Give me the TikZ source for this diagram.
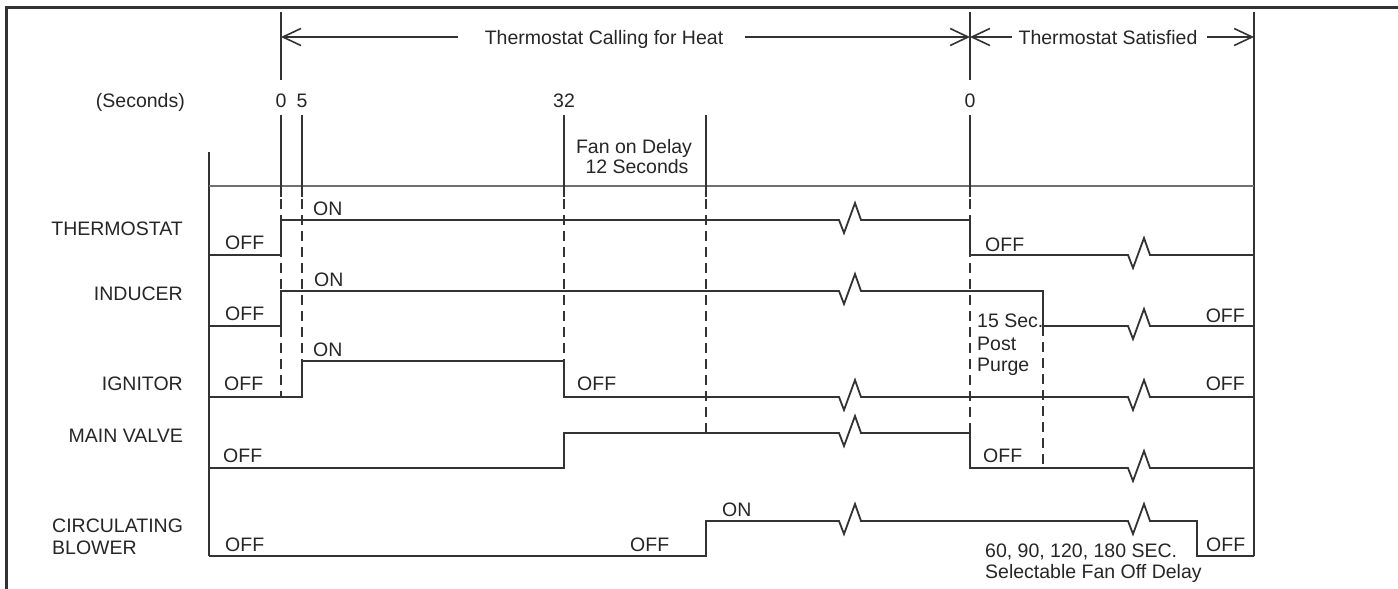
\documentclass[tikz,border=0pt]{standalone}
\usepackage{fontspec}
\setmainfont{Liberation Sans}
\usetikzlibrary{arrows.meta}
\definecolor{linec}{HTML}{333333}
\definecolor{textc}{HTML}{262626}
\begin{document}
\begin{tikzpicture}[x=1pt,y=-1pt,
  lbl/.style={font=\fontsize{19.5}{22}\selectfont, text=textc, inner sep=0pt},
  sig/.style={draw=linec, line width=1.8pt, line join=miter},
  rule/.style={draw=linec, line width=1.6pt},
  thin/.style={draw=linec!70, line width=1.4pt},
  dsh/.style={draw=linec, line width=1.3pt, dash pattern=on 10pt off 6pt},
  arr/.style={draw=linec, line width=1.6pt, -{Straight Barb[length=18pt,width=17pt,line width=1.6pt]}},
  frame/.style={draw=linec, line width=3pt}]
\useasboundingbox (0,0) rectangle (1398,589);
\fill[white] (0,0) rectangle (1398,589);
% outer frame
\draw[frame] (5,7) -- (1398,7);
\draw[frame] (6,7) -- (6,589);

% time markers
\coordinate (t0top) at (281,12);  \coordinate (t0mid) at (281,80);
\coordinate (s0top) at (970,12);  \coordinate (s0mid) at (970,80);
\coordinate (endtop) at (1254,12);
\draw[rule] (t0top) -- (t0mid);
\draw[rule] (s0top) -- (s0mid);
\draw[rule] (endtop) -- (1254,556);

% arrows
\coordinate (a1) at (281,37); \coordinate (a1e) at (458,37);
\coordinate (a2s) at (745,37); \coordinate (a2) at (970,37);
\coordinate (a3s) at (1012,37);
\coordinate (a4s) at (1207,37); \coordinate (a4) at (1254,37);
\draw[arr] (a1e) -- (a1);
\draw[arr] (a2s) -- (a2);
\draw[arr] (a3s) -- (a2);
\draw[arr] (a4s) -- (a4);
\node[lbl, anchor=base] (calling) at (604,44) {Thermostat Calling for Heat};
\node[lbl, anchor=base] (satisfied) at (1108,44) {Thermostat Satisfied};

% seconds row
\node[lbl, anchor=base east] (secs) at (185,107) {(Seconds)};
\node[lbl, anchor=base] (n0) at (281,107) {0};
\node[lbl, anchor=base] (n5) at (302,107) {5};
\node[lbl, anchor=base] (n32) at (564,107) {32};
\node[lbl, anchor=base] (n0b) at (970,107) {0};

% chart frame
\draw[rule] (209,152) -- (209,556);
\draw[thin] (209,186) -- (1254,186);

% solid ticks
\foreach \x in {281,302,564,706,970} { \draw[rule] (\x,115) -- (\x,197); }
% dashed lines
\draw[dsh] (281,199) -- (281,397);
\draw[dsh] (302,199) -- (302,361);
\draw[dsh] (564,199) -- (564,397);
\draw[dsh] (706,199) -- (706,433);
\draw[dsh] (970,199) -- (970,433);
\draw[dsh] (1043,326) -- (1043,468);

\node[lbl, anchor=base] (fan1) at (634,153) {Fan on Delay};
\node[lbl, anchor=base] (fan2) at (637,173) {12 Seconds};

% row labels
\node[lbl, anchor=base east] (lth) at (183,235) {THERMOSTAT};
\node[lbl, anchor=base east] (lin) at (183,300) {INDUCER};
\node[lbl, anchor=base east] (lig) at (183,390) {IGNITOR};
\node[lbl, anchor=base east] (lmv) at (183,442) {MAIN VALVE};
\node[lbl, anchor=base west] (lcb1) at (52,532) {CIRCULATING};
\node[lbl, anchor=base west] (lcb2) at (52,554) {BLOWER};

% waveforms
\draw[sig] (209,255) -- (281,255) -- (281,220) -- (839,220) -- ++(5,13) -- ++(11,-30) -- ++(6,17)
  -- (970,220) -- (970,255) -- (1128,255) -- ++(5,13) -- ++(11,-30) -- ++(6,17) -- (1254,255);
\draw[sig] (209,326) -- (281,326) -- (281,291) -- (839,291) -- ++(5,13) -- ++(11,-30) -- ++(6,17)
  -- (1043,291) -- (1043,326) -- (1128,326) -- ++(5,13) -- ++(11,-30) -- ++(6,17) -- (1254,326);
\draw[sig] (209,397) -- (302,397) -- (302,361) -- (564,361) -- (564,397) -- (839,397) -- ++(5,13) -- ++(11,-30) -- ++(6,17)
  -- (1128,397) -- ++(5,13) -- ++(11,-30) -- ++(6,17) -- (1254,397);
\draw[sig] (209,468) -- (564,468) -- (564,433) -- (839,433) -- ++(5,13) -- ++(11,-30) -- ++(6,17)
  -- (970,433) -- (970,468) -- (1128,468) -- ++(5,13) -- ++(11,-30) -- ++(6,17) -- (1254,468);
\draw[sig] (209,556) -- (706,556) -- (706,521) -- (839,521) -- ++(5,13) -- ++(11,-30) -- ++(6,17)
  -- (1128,521) -- ++(5,13) -- ++(11,-30) -- ++(6,17) -- (1197,521) -- (1197,556) -- (1254,556);

% state labels
\node[lbl, anchor=base west] (th1) at (225,249) {OFF};
\node[lbl, anchor=base west] (th2) at (313,215) {ON};
\node[lbl, anchor=base west] (th3) at (985,251) {OFF};
\node[lbl, anchor=base west] (in1) at (225,320) {OFF};
\node[lbl, anchor=base west] (in2) at (314,286) {ON};
\node[lbl, anchor=base east] (in3) at (1245,322) {OFF};
\node[lbl, anchor=base west] (ig1) at (224,390) {OFF};
\node[lbl, anchor=base west] (ig2) at (313,356) {ON};
\node[lbl, anchor=base west] (ig3) at (577,390) {OFF};
\node[lbl, anchor=base east] (ig4) at (1245,390) {OFF};
\node[lbl, anchor=base west] (mv1) at (223,462) {OFF};
\node[lbl, anchor=base west] (mv2) at (983,462) {OFF};
\node[lbl, anchor=base west] (cb1) at (225,551) {OFF};
\node[lbl, anchor=base west] (cb2) at (630,551) {OFF};
\node[lbl, anchor=base west] (cb3) at (722,516) {ON};
\node[lbl, anchor=base west] (cb4) at (1206,551) {OFF};
\node[lbl, anchor=base west] (pp1) at (977,327) {15 Sec.};
\node[lbl, anchor=base west] (pp2) at (977,350) {Post};
\node[lbl, anchor=base west] (pp3) at (977,371) {Purge};
\node[lbl, anchor=base west] (fd1) at (985,557) {60, 90, 120, 180 SEC.};
\node[lbl, anchor=base west] (fd2) at (985,578) {Selectable Fan Off Delay};
\end{tikzpicture}
\end{document}
